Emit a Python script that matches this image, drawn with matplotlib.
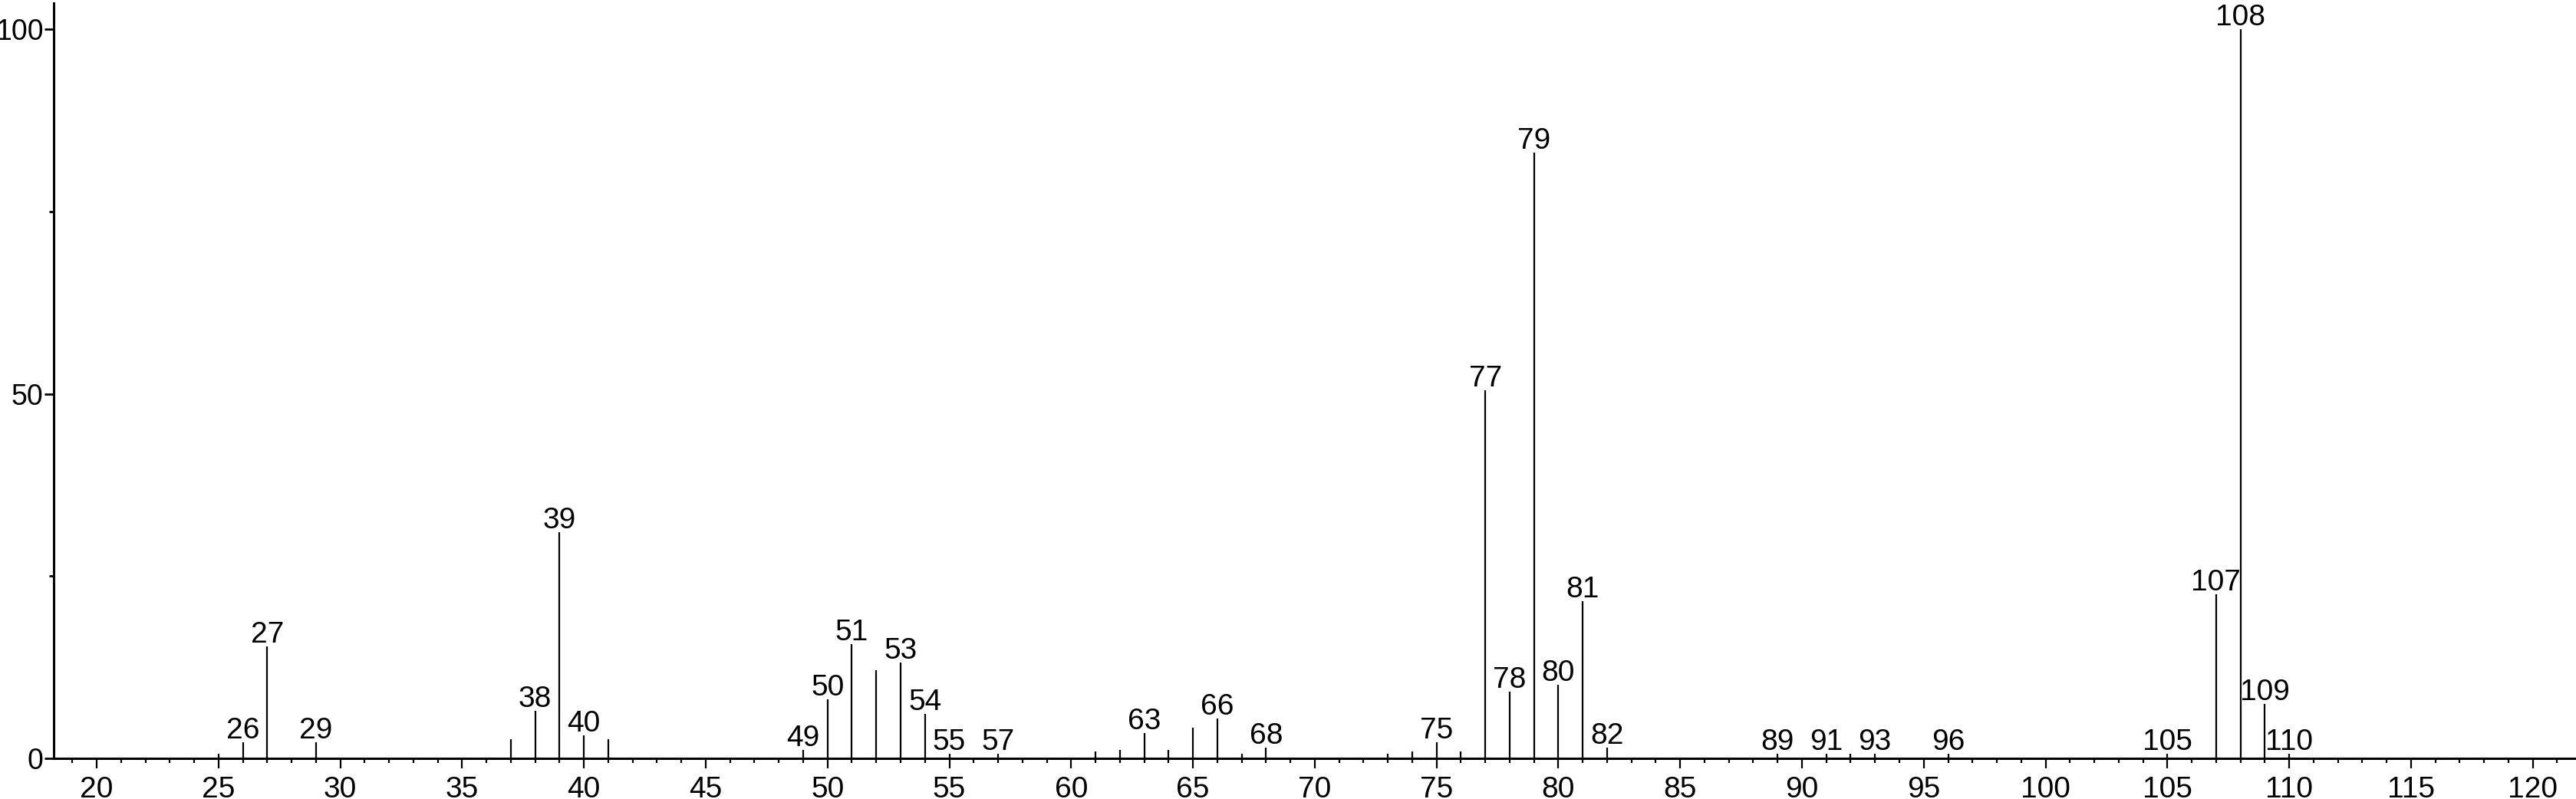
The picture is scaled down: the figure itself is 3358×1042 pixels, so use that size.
import numpy as np
import matplotlib.pyplot as plt
from matplotlib.ticker import MultipleLocator

# m/z and relative intensity
mz = [25, 26, 27, 29, 37, 38, 39, 40, 41,
      49, 50, 51, 52, 53, 54, 55, 57,
      61, 62, 63, 64, 65, 66, 67, 68,
      73, 74, 75, 76, 77, 78, 79, 80, 81, 82,
      89, 91, 92, 93, 96,
      105, 107, 108, 109, 110]
inten = [0.6, 2.2, 15.4, 2.2, 2.6, 6.5, 31.0, 3.2, 2.6,
         1.2, 8.1, 15.7, 12.1, 13.1, 6.1, 0.6, 0.6,
         0.95, 1.2, 3.5, 1.2, 4.2, 5.5, 0.6, 1.5,
         0.6, 0.95, 2.2, 0.95, 50.5, 9.1, 83.1, 10.1, 21.6, 1.5,
         0.6, 0.6, 0.6, 0.6, 0.6,
         0.6, 22.5, 100.0, 7.5, 0.6]
labelled = [26, 27, 29, 38, 39, 40, 49, 50, 51, 53, 54, 55, 57, 63, 66, 68,
            75, 77, 78, 79, 80, 81, 82, 89, 91, 93, 96, 105, 107, 108, 109, 110]

fam = ['Liberation Sans Narrow', 'Liberation Sans', 'DejaVu Sans']
fs = 28

fig = plt.figure(figsize=(33.58, 10.42), dpi=100)
ax = fig.add_axes([0.0208, 0.0509, 0.9785, 0.9451])

ax.vlines(mz, 0, inten, color='black', lw=1.6)
for m, v in zip(mz, inten):
    if m in labelled:
        ax.annotate(str(m), (m, v), xytext=(0, 5), textcoords='offset pixels',
                    ha='center', va='baseline', fontsize=fs, family=fam,
                    annotation_clip=False)

ax.set_xlim(18.23, 121.7)
ax.set_ylim(0, 103.6)
ax.xaxis.set_major_locator(MultipleLocator(5))
ax.xaxis.set_minor_locator(MultipleLocator(1))
ax.yaxis.set_major_locator(MultipleLocator(50))
ax.yaxis.set_minor_locator(MultipleLocator(25))

for s in ['top', 'right']:
    ax.spines[s].set_visible(False)
for s in ['left', 'bottom']:
    ax.spines[s].set_linewidth(2.2)

ax.tick_params(axis='x', which='major', length=9.5, width=1.6, pad=7)
ax.tick_params(axis='x', which='minor', length=4.5, width=1.6)
ax.tick_params(axis='y', which='major', length=9, width=2, pad=0.5)
ax.tick_params(axis='y', which='minor', length=4.5, width=2)
for lbl in ax.get_xticklabels():
    lbl.set_family(fam)
    lbl.set_fontsize(fs)
for lbl in ax.get_yticklabels():
    lbl.set_family(fam)
    lbl.set_fontsize(27)

fig.savefig('out.png', dpi=100)
